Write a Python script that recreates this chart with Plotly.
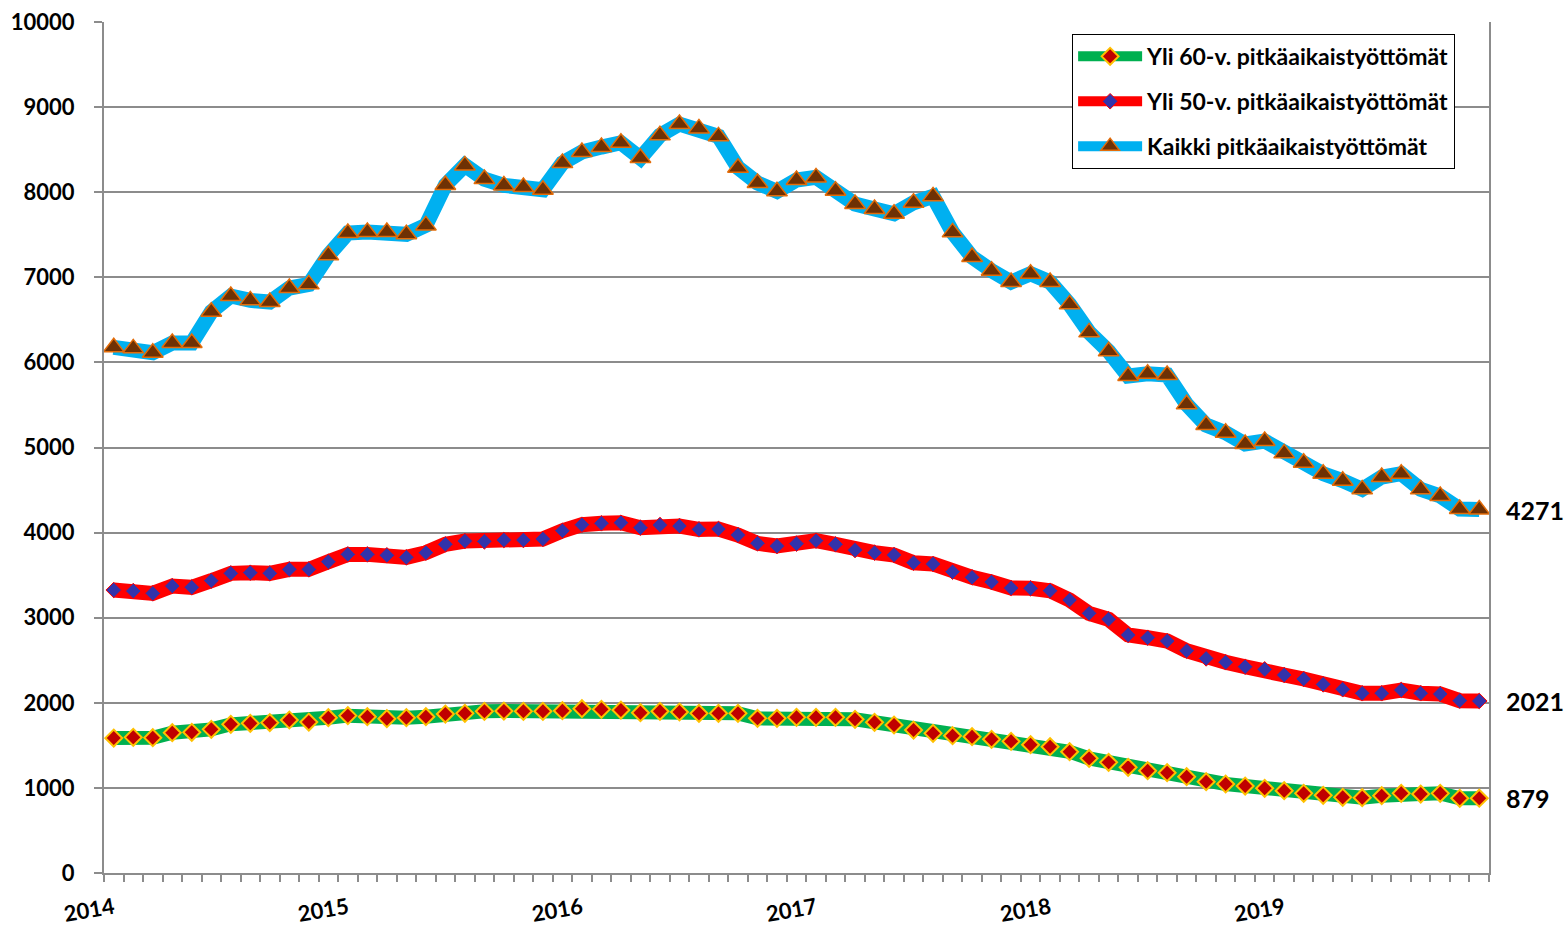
import plotly.graph_objects as go

# 71 monthly observations, Jan 2014 .. Nov 2019
years = ["2014", "2015", "2016", "2017", "2018", "2019"]

kaikki = [6177, 6165, 6114, 6228, 6228, 6596, 6780, 6729, 6709, 6874, 6917, 7258,
          7520, 7532, 7532, 7505, 7610, 8084, 8315, 8154, 8080, 8060, 8029, 8342,
          8472, 8530, 8581, 8401, 8668, 8801, 8750, 8656, 8288, 8108, 8010, 8143,
          8174, 8017, 7861, 7802, 7747, 7876, 7951, 7528, 7238, 7077, 6944, 7042,
          6944, 6682, 6353, 6130, 5840, 5867, 5852, 5507, 5264, 5174, 5041, 5076,
          4931, 4821, 4692, 4610, 4508, 4653, 4692, 4508, 4430, 4277, 4271]

yli50 = [3325, 3313, 3286, 3372, 3357, 3435, 3521, 3529, 3521, 3568, 3568, 3658,
         3744, 3744, 3733, 3709, 3764, 3862, 3901, 3897, 3913, 3913, 3925, 4022,
         4093, 4109, 4116, 4058, 4089, 4077, 4038, 4042, 3972, 3874, 3842, 3870,
         3905, 3862, 3795, 3764, 3737, 3646, 3631, 3540, 3474, 3419, 3349, 3345,
         3317, 3208, 3051, 2981, 2797, 2765, 2726, 2612, 2522, 2476, 2424, 2393,
         2327, 2280, 2217, 2159, 2112, 2112, 2150, 2112, 2103, 2025, 2021]

yli60 = [1586, 1594, 1590, 1649, 1653, 1688, 1747, 1759, 1767, 1798, 1774, 1825,
         1849, 1837, 1813, 1825, 1837, 1868, 1876, 1900, 1903, 1900, 1900, 1907,
         1931, 1923, 1915, 1884, 1900, 1892, 1876, 1876, 1876, 1817, 1817, 1829,
         1829, 1829, 1806, 1771, 1739, 1680, 1641, 1613, 1602, 1571, 1547, 1508,
         1484, 1425, 1347, 1300, 1242, 1202, 1179, 1132, 1073, 1046, 1022, 995,
         967, 936, 913, 889, 885, 908, 936, 928, 936, 878, 879]

names = ["Yli 60-v. pitkäaikaistyöttömät",
         "Yli 50-v. pitkäaikaistyöttömät",
         "Kaikki pitkäaikaistyöttömät"]

x = list(range(len(kaikki)))
FONT = "Lato"

fig = go.Figure()

fig.add_trace(go.Scatter(
    x=x, y=kaikki, name=f"<b>{names[2]}</b>", mode="lines+markers", legendgroup="c",
    line=dict(color="#00B0F0", width=15),
    marker=dict(symbol="triangle-up", size=18, color="#6E3104",
                line=dict(color="#E36C09", width=1.5)),
    legendrank=3))

fig.add_trace(go.Scatter(
    x=x, y=yli50, name=f"<b>{names[1]}</b>", mode="lines+markers", legendgroup="b",
    line=dict(color="#FF0000", width=15),
    marker=dict(symbol="diamond", size=12, color="#3333AA",
                line=dict(color="#FF0000", width=1)),
    legendrank=2))

fig.add_trace(go.Scatter(
    x=x, y=yli60, name=f"<b>{names[0]}</b>", mode="lines+markers", legendgroup="a",
    line=dict(color="#00B050", width=14),
    marker=dict(symbol="diamond", size=13, color="#C00000",
                line=dict(color="#FFC000", width=2)),
    legendrank=1))

# end-value labels
for series in (kaikki, yli50, yli60):
    fig.add_annotation(x=1.011, xref="paper", y=series[-1], yref="y",
                       text=f"<b>{series[-1]}</b>", showarrow=False,
                       xanchor="left", yanchor="middle",
                       font=dict(family=FONT, size=25, color="black"))

fig.update_layout(
    width=1568, height=927,
    margin=dict(l=104, r=79, t=22, b=54, autoexpand=False),
    paper_bgcolor="white", plot_bgcolor="white",
    font=dict(family=FONT, color="black"),
    showlegend=True,
    legend=dict(x=0.699, y=0.986, xanchor="left", yanchor="top",
                bgcolor="white", bordercolor="black", borderwidth=1,
                font=dict(family=FONT, size=23, color="black"),
                traceorder="grouped", tracegroupgap=12,
                itemwidth=64),
)

fig.update_xaxes(
    range=[-0.5, len(x) - 0.5],
    tickvals=[0, 12, 24, 36, 48, 60],
    ticktext=[f"<b>{y}</b>" for y in years],
    tickangle=-10,
    ticks="", ticklabelstandoff=12,
    tickfont=dict(family=FONT, size=22, color="black"),
    showgrid=False, zeroline=False, automargin=False,
    showline=True, linecolor="#8C8C8C", linewidth=2,
    minor=dict(tick0=-0.5, dtick=1, ticks="outside", ticklen=7,
               tickcolor="#8C8C8C", tickwidth=1.5, showgrid=False),
)

fig.update_yaxes(
    range=[0, 10000],
    tickvals=list(range(0, 10001, 1000)),
    ticktext=[f"<b>{v}</b>" for v in range(0, 10001, 1000)],
    ticks="outside", ticklen=8, tickcolor="#8C8C8C", tickwidth=1.5,
    ticklabelstandoff=15, automargin=False,
    tickfont=dict(family=FONT, size=22, color="black"),
    showgrid=True, gridcolor="#8C8C8C", gridwidth=1.5,
    zeroline=False,
    showline=True, linecolor="#8C8C8C", linewidth=2, mirror=True,
)

fig.write_html("out.html", config={"displayModeBar": False},
               post_script="document.body.style.margin='0';")
